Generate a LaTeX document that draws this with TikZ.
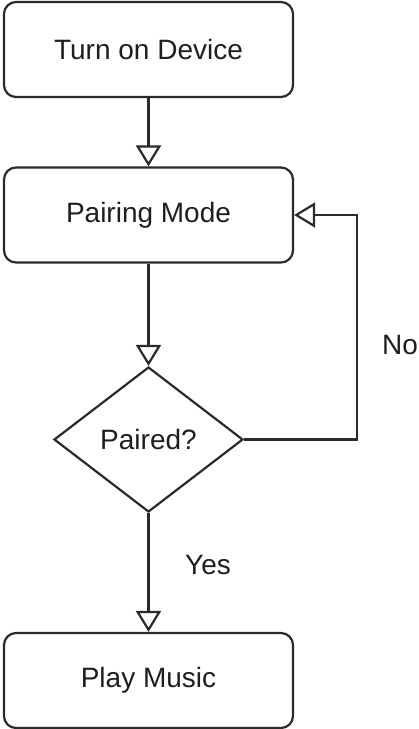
\documentclass[tikz,border=0pt]{standalone}
\usepackage{fontspec}
\setmainfont{Liberation Sans}
\usetikzlibrary{arrows.meta,shapes.geometric}
\definecolor{ln}{HTML}{2A2A2A}
\definecolor{tx}{HTML}{1E1E1E}
\tikzset{
  procbox/.style={draw=ln, line width=2.2pt, rounded corners=12pt, minimum width=289pt, minimum height=95pt, inner sep=0pt, text=tx, font=\fontsize{28}{32}\selectfont},
  decbox/.style={draw=ln, line width=2.2pt, diamond, minimum width=189pt, minimum height=145pt, inner sep=0pt, text=tx, font=\fontsize{28}{32}\selectfont},
  flow/.style={draw=ln, line width=2.2pt, -{Triangle[open, width=25pt, length=21pt, line width=2.2pt]}},
  lbl/.style={text=tx, font=\fontsize{28}{32}\selectfont, inner sep=0pt}
}
\begin{document}
\begin{tikzpicture}[x=1pt, y=-1pt]
\useasboundingbox (0,0) rectangle (419,729);
\node[procbox] (turnon) at (148.5,49.5) {Turn on Device};
\node[procbox] (pairing) at (148.5,215) {Pairing Mode};
\node[decbox] (paired) at (148.5,439.5) {Paired?};
\node[procbox] (play) at (148.5,680.5) {Play Music};
\coordinate (corner1) at (357,439.5);
\coordinate (corner2) at (357,215);
\draw[flow] (turnon) -- (pairing);
\draw[flow] (pairing) -- (paired);
\draw[flow] (paired) -- (play);
\draw[flow] (paired.east) -- (corner1) -- (corner2) -- (pairing.east);
\node[lbl] (nolbl) at (400,345) {No};
\node[lbl] (yeslbl) at (208,565) {Yes};
\end{tikzpicture}
\end{document}
